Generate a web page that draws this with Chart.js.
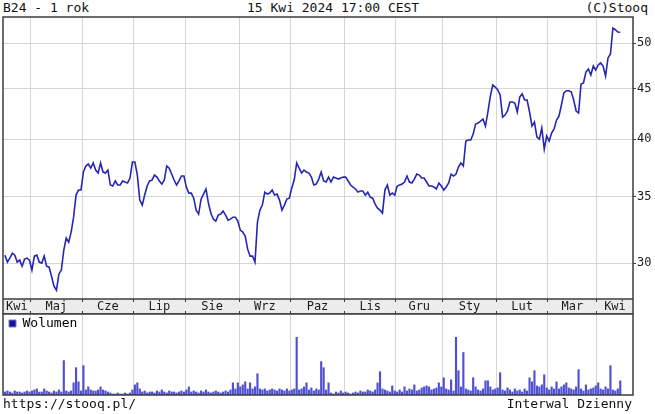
<!DOCTYPE html>
<html>
<head>
<meta charset="utf-8">
<script src="https://cdn.jsdelivr.net/npm/chart.js"></script>
<style>
  body { margin: 0; background: #fff; width: 655px; height: 414px; overflow: hidden; font-family: "DejaVu Sans Mono", monospace; }
  .txt { position: absolute; font-size: 13px; line-height: 16px; color: #111; white-space: pre; }
  canvas { position: absolute; left: 0; }
  #price { top: 0; }
  #vol { top: 311px; }
</style>
</head>
<body>
<div class="txt" style="left:3px;top:0">B24 - 1 rok</div>
<div class="txt" style="left:247px;top:0">15 Kwi 2024 17:00 CEST</div>
<div class="txt" style="right:7px;top:0">(C)Stooq</div>
<canvas id="price" width="655" height="314"></canvas>
<canvas id="vol" width="655" height="85"></canvas>
<div class="txt" style="left:3px;top:396px">https://stooq.pl/</div>
<div class="txt" style="right:23px;top:396px">Interwal Dzienny</div>
<script>
// miesiace i liczba sesji w kazdym (od 14.04.2023 do 15.04.2024)
const monthLabels = ['Kwi', 'Maj', 'Cze', 'Lip', 'Sie', 'Wrz', 'Paz', 'Lis', 'Gru', 'Sty', 'Lut', 'Mar', 'Kwi'];
const monthSessions = [11, 21, 21, 21, 22, 21, 22, 21, 19, 22, 21, 20, 10];
const priceTicks = [30, 35, 40, 45, 50];

// kurs zamkniecia, kolejne sesje
const prices = [
    30.56, 30.07, 30.35, 30.70, 30.56, 30.07, 30.21, 29.79, 30.28, 30.35,
    30.21, 29.52, 30.49, 30.56, 30.07, 30.00, 30.49, 29.79, 29.72, 29.10,
    28.43, 28.17, 29.24, 29.52, 30.92, 31.80, 31.50, 32.24, 33.38, 35.14,
    35.55, 35.55, 37.07, 37.59, 37.77, 37.41, 37.86, 37.24, 36.98, 37.86,
    37.07, 36.98, 37.24, 35.97, 35.89, 36.31, 35.97, 35.97, 36.31, 36.22,
    36.14, 36.56, 37.94, 37.94, 36.81, 34.73, 34.33, 35.14, 35.89, 36.31,
    36.39, 36.81, 36.64, 36.31, 36.05, 36.39, 37.59, 37.41, 36.90, 36.39,
    35.97, 36.31, 36.73, 36.73, 35.80, 35.30, 35.30, 34.89, 33.93, 33.62,
    34.81, 35.22, 35.64, 34.49, 33.69, 33.23, 33.07, 33.54, 33.62, 33.85,
    33.54, 33.15, 33.23, 33.38, 33.38, 33.07, 32.39, 32.24, 31.95, 30.99,
    30.49, 30.49, 30.07, 33.00, 33.93, 34.33, 35.38, 35.22, 35.30, 35.55,
    35.14, 35.22, 34.73, 33.93, 34.33, 34.81, 34.89, 35.72, 36.39, 37.86,
    37.41, 36.98, 37.24, 37.07, 36.98, 36.64, 35.97, 36.05, 36.47, 37.07,
    36.31, 36.22, 36.64, 36.22, 36.64, 36.56, 36.47, 36.56, 36.64, 36.64,
    36.31, 35.97, 35.80, 35.64, 35.38, 35.47, 35.47, 35.14, 35.38, 34.97,
    34.89, 34.41, 34.09, 33.93, 33.69, 35.55, 35.97, 35.14, 35.30, 35.14,
    35.89, 35.97, 36.05, 36.22, 36.73, 36.22, 36.14, 36.47, 36.90, 36.81,
    36.56, 36.56, 36.22, 35.89, 35.89, 35.80, 35.64, 36.14, 35.89, 35.55,
    35.80, 36.14, 36.90, 36.73, 36.90, 37.50, 37.86, 37.59, 39.84, 39.93,
    39.93, 40.49, 41.45, 41.54, 41.73, 41.93, 41.25, 42.62, 44.23, 45.38,
    45.17, 44.90, 44.34, 42.12, 42.32, 42.72, 43.62, 43.62, 43.52, 42.62,
    44.13, 44.45, 43.82, 43.82, 42.62, 41.25, 41.64, 40.20, 40.02, 41.06,
    39.10, 40.30, 39.84, 40.58, 40.97, 41.83, 42.22, 43.32, 44.56, 44.78,
    44.78, 44.67, 43.82, 42.72, 42.52, 45.49, 45.59, 46.77, 47.10, 46.45,
    47.43, 46.99, 47.54, 47.77, 47.43, 46.34, 48.33, 48.77, 51.80, 51.60,
    51.33, 51.30
];

// wolumen (tys. szt.), kolejne sesje
const volumes = [
    3, 4, 3, 2, 4, 3, 3, 2, 3, 4,
    3, 4, 5, 6, 3, 3, 6, 4, 3, 2,
    4, 3, 5, 3, 34, 4, 3, 4, 12, 27,
    13, 4, 29, 5, 8, 5, 4, 4, 5, 8,
    5, 4, 3, 2, 1, 1, 2, 1, 1, 2,
    1, 2, 5, 10, 12, 6, 3, 4, 2, 3,
    3, 2, 4, 3, 5, 3, 2, 4, 3, 3,
    2, 3, 4, 3, 5, 8, 3, 4, 3, 2,
    4, 3, 5, 3, 2, 3, 4, 3, 2, 3,
    4, 3, 5, 12, 6, 12, 8, 10, 13, 6,
    12, 6, 8, 21, 6, 5, 6, 4, 5, 6,
    5, 4, 6, 5, 4, 6, 4, 5, 6, 57,
    5, 6, 8, 12, 5, 7, 4, 6, 5, 33,
    27, 5, 12, 2, 1, 3, 2, 4, 2, 3,
    2, 1, 2, 3, 2, 4, 3, 3, 5, 4,
    3, 5, 12, 23, 6, 5, 4, 3, 9, 4,
    3, 5, 3, 8, 4, 6, 5, 10, 4, 5,
    7, 8, 9, 8, 5, 6, 7, 12, 8, 17,
    6, 5, 15, 4, 57, 24, 8, 42, 6, 5,
    4, 17, 8, 5, 4, 6, 14, 14, 8, 5,
    6, 7, 22, 5, 4, 7, 5, 3, 6, 4,
    5, 3, 6, 4, 17, 13, 24, 9, 8, 10,
    20, 7, 5, 8, 6, 13, 6, 8, 10, 12,
    7, 6, 5, 8, 25, 6, 4, 10, 5, 6,
    7, 9, 12, 6, 5, 8, 6, 29, 5, 4,
    6, 14
];

const FONT = '"DejaVu Sans Mono", monospace';
const LINE = '#2626b2';
const BAR = '#5050d0';
const GRID = '#d6d6d6';
const FRAME = '#3c3c3c';
const BAND = '#ececec';
const X_MIN = -0.8, X_MAX = 256.2;
const Y_MIN = 27.6, Y_MAX = 53.15;
const VOL_MAX = 80;

// granice miesiecy (linie siatki) i srodki (podpisy)
const bounds = [];
let acc = 0;
monthSessions.forEach((n, k) => { if (k > 0) bounds.push(acc - 0.5); acc += n; });
const xTicks = [];
monthLabels.forEach((label, k) => {
    const start = k === 0 ? X_MIN : bounds[k - 1];
    const end = k === monthLabels.length - 1 ? X_MAX : bounds[k];
    if (k > 0) xTicks.push({ v: start, label: '' });
    xTicks.push({ v: (start + end) / 2, label: label });
});

const framePlugin = {
    id: 'frame',
    beforeDraw(chart, args, opts) {
        if (!opts.band) return;
        const a = chart.chartArea, ctx = chart.ctx, x = chart.scales.x;
        ctx.save();
        ctx.fillStyle = BAND;
        ctx.fillRect(a.left, a.bottom, a.right - a.left, x.bottom - a.bottom);
        ctx.restore();
    },
    afterDraw(chart, args, opts) {
        const a = chart.chartArea, ctx = chart.ctx;
        const bottom = opts.band ? chart.scales.x.bottom : a.bottom;
        ctx.save();
        ctx.strokeStyle = FRAME;
        ctx.lineWidth = 1.5;
        ctx.strokeRect(a.left, a.top, a.right - a.left, bottom - a.top);
        if (opts.band) {
            ctx.beginPath();
            ctx.moveTo(a.left, a.bottom);
            ctx.lineTo(a.right, a.bottom);
            ctx.stroke();
        }
        ctx.restore();
    }
};

new Chart(document.getElementById('price'), {
    type: 'line',
    data: {
        datasets: [{
            data: prices.map((p, i) => ({ x: i, y: p })),
            borderColor: LINE,
            borderWidth: 1.6,
            pointRadius: 0,
            tension: 0
        }]
    },
    options: {
        responsive: false,
        animation: false,
        layout: { padding: { left: 3, top: 17, right: 0, bottom: 0 } },
        plugins: { legend: { display: false }, tooltip: { enabled: false }, frame: { band: true } },
        scales: {
            x: {
                type: 'linear', min: X_MIN, max: X_MAX, position: 'bottom', offset: false,
                afterBuildTicks: s => { s.ticks = xTicks.map(t => ({ value: t.v })); },
                afterFit: s => { s.height = 15; },
                ticks: {
                    autoSkip: false, maxRotation: 0, padding: -2,
                    callback: (v, i) => xTicks[i].label,
                    font: { family: FONT, size: 12 }, color: '#1a1a1a'
                },
                grid: {
                    color: c => (xTicks[c.index] && xTicks[c.index].label) ? 'rgba(0,0,0,0)' : GRID,
                    tickColor: c => (xTicks[c.index] && xTicks[c.index].label) ? 'rgba(0,0,0,0)' : FRAME,
                    tickLength: 3
                },
                border: { display: false }
            },
            y: {
                type: 'logarithmic', position: 'right', min: Y_MIN, max: Y_MAX,
                afterBuildTicks: s => { s.ticks = priceTicks.map(v => ({ value: v })); },
                afterFit: s => { s.width = 22; },
                ticks: { padding: 1, callback: v => String(v), font: { family: FONT, size: 12 }, color: '#1a1a1a' },
                grid: { color: GRID, tickColor: FRAME, tickLength: 3 },
                border: { display: false }
            }
        }
    },
    plugins: [framePlugin]
});

new Chart(document.getElementById('vol'), {
    type: 'bar',
    data: {
        datasets: [{
            label: 'Wolumen',
            data: volumes.map((v, i) => ({ x: i, y: v })),
            backgroundColor: BAR,
            barThickness: 1.5
        }]
    },
    options: {
        responsive: false,
        animation: false,
        layout: { padding: { left: 3, right: 22, top: 0, bottom: 1 } },
        plugins: {
            tooltip: { enabled: false },
            frame: { band: false },
            legend: {
                position: 'chartArea', align: 'start',
                labels: {
                    boxWidth: 7, boxHeight: 7, padding: 6,
                    font: { family: FONT, size: 13 }, color: '#111',
                    generateLabels: () => [{ text: 'Wolumen', fillStyle: '#1414a0', strokeStyle: '#7a7ab8', lineWidth: 1, hidden: false, datasetIndex: 0 }]
                }
            }
        },
        scales: {
            x: {
                type: 'linear', min: X_MIN, max: X_MAX, position: 'bottom', offset: false,
                afterBuildTicks: s => { s.ticks = bounds.map(v => ({ value: v })); },
                ticks: { display: false },
                grid: { color: GRID, drawTicks: false, offset: false },
                border: { display: false }
            },
            x2: {
                type: 'linear', min: X_MIN, max: X_MAX, position: 'top', offset: false,
                afterBuildTicks: s => { s.ticks = bounds.map(v => ({ value: v })); },
                afterFit: s => { s.height = 3; },
                ticks: { display: false },
                grid: { drawOnChartArea: false, tickColor: FRAME, tickLength: 3, offset: false },
                border: { display: false }
            },
            y: { min: 0, max: VOL_MAX, display: false }
        }
    },
    plugins: [framePlugin]
});
</script>
</body>
</html>
